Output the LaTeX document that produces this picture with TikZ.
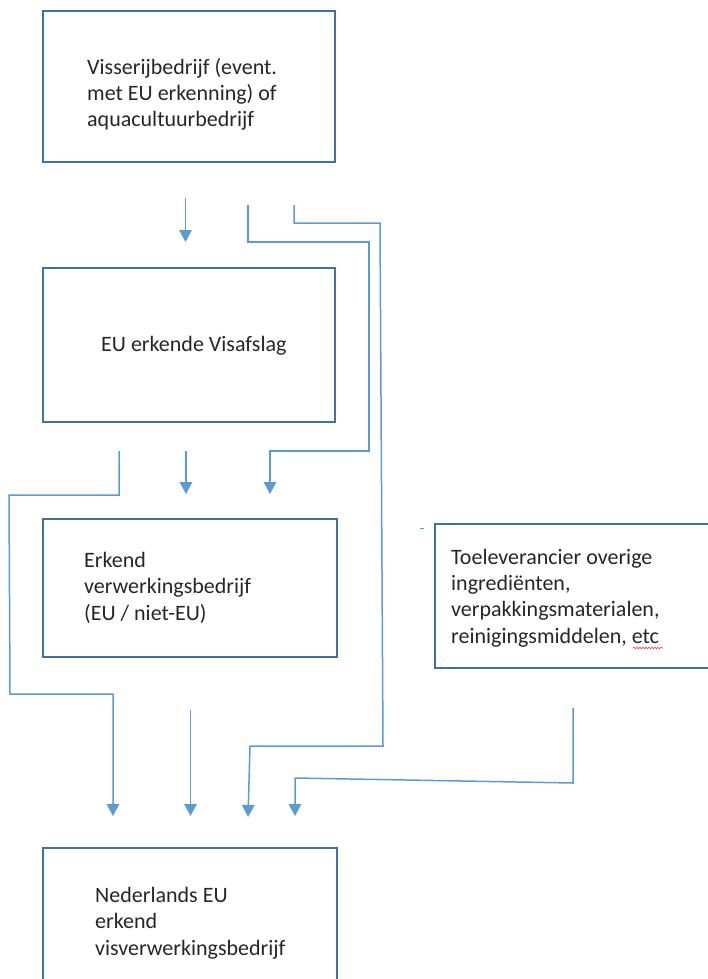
\documentclass[tikz,border=0pt]{standalone}
\usepackage{fontspec}
\setmainfont{Carlito}
\usetikzlibrary{arrows.meta,decorations.pathmorphing}
\definecolor{lineblue}{HTML}{5B9BD5}
\definecolor{boxblue}{HTML}{41719C}
\definecolor{txt}{HTML}{262626}
\begin{document}
\begin{tikzpicture}[x=1pt,y=-1pt,
  box/.style={draw=boxblue,line width=1.4pt},
  lbl/.style={anchor=base west,align=left,inner sep=0pt,text=txt,font=\fontsize{22}{26.3}\selectfont},
  conn/.style={draw=lineblue,line width=1.5pt},
  arr/.style={conn,-{Triangle[width=12.5pt,length=12pt]}}]
\useasboundingbox (0,0) rectangle (708,979);
% boxes
\draw[box] (43,11) rectangle (335,162);
\draw[box] (43,268) rectangle (335,422);
\draw[box] (43,519) rectangle (337,657);
\draw[box] (435,524) rectangle (720,668);
\draw[box] (43,848) rectangle (337,995);
% texts (anchored at the baseline of the last line)
\node[lbl] (t1) at (87,127) {Visserijbedrijf (event.\\met EU erkenning) of\\aquacultuurbedrijf};
\node[lbl] (t2) at (101,351) {EU erkende Visafslag};
\node[lbl] (t3) at (84,620) {Erkend\\verwerkingsbedrijf\\(EU / niet-EU)};
\node[lbl] (t4) at (451,643) {Toeleverancier overige\\ingrediënten,\\verpakkingsmaterialen,\\reinigingsmiddelen, etc};
\node[lbl] (t5) at (95,955) {Nederlands EU\\erkend\\visverwerkingsbedrijf};
% spell-check underline
\draw[red!80,line width=0.6pt,decorate,decoration={snake,amplitude=0.8pt,segment length=3pt}] (633,648) -- (663,648);
% tiny dash
\draw[conn,line width=1pt] (420,528) -- (424,528);
% coordinates
\coordinate (a1s) at (185.5,198); \coordinate (a1e) at (185.5,242);
\coordinate (p1s) at (248,205);   \coordinate (p1e) at (270,494);
\coordinate (p2s) at (294,205);   \coordinate (p2e) at (248,817);
\coordinate (a2s) at (186,451);   \coordinate (a2e) at (186,494);
\coordinate (p3s) at (119,451);   \coordinate (p3e) at (113,816);
\coordinate (a3s) at (190.5,710); \coordinate (a3e) at (190.5,816);
\coordinate (p4s) at (573,708);   \coordinate (p4e) at (295,816);
% connectors
\draw[arr] (a1s) -- (a1e);
\draw[arr] (p1s) -- (248,242) -- (369,242) -- (369,451) -- (270,451) -- (p1e);
\draw[arr] (p2s) -- (294,223) -- (380,223) -- (383,746) -- (250,746) -- (p2e);
\draw[arr] (a2s) -- (a2e);
\draw[arr] (p3s) -- (119,495) -- (9,495) -- (10,694) -- (113,694) -- (p3e);
\draw[arr] (a3s) -- (a3e);
\draw[arr] (p4s) -- (573,783) -- (295,778) -- (p4e);
\end{tikzpicture}
\end{document}
